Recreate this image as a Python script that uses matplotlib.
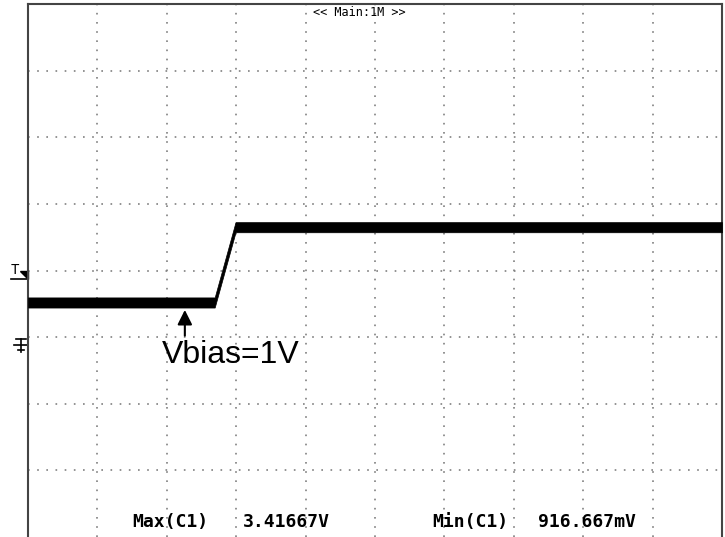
import matplotlib.pyplot as plt

# time in divisions, level in divisions (screen units of the scope)
t = [0.0, 2.69, 2.99, 10.0]
level = [3.52, 3.52, 4.65, 4.65]

max_label = 'Max(C1)'
max_val = '3.41667V'
min_label = 'Min(C1)'
min_val = '916.667mV'
timebase = '<< Main:1M >>'
note = 'Vbias=1V'

fig = plt.figure(figsize=(7.25, 5.37), dpi=100)
ax = fig.add_axes([28/725, 0, 694/725, 533/537])
ax.set_xlim(0, 10)
ax.set_ylim(0, 8)

# dotted graticule
for gx in range(1, 10):
    ax.axvline(gx, color='#808080', lw=1.2, ls=(0, (1, 4.5)), zorder=1)
for gy in range(1, 8):
    ax.axhline(gy, color='#808080', lw=1.2, ls=(0, (1, 4.5)), zorder=1)

# trace drawn as a band, like the scope's persistence
half = 0.076
ax.fill_between(t, [v - half for v in level], [v + half for v in level],
                color='black', lw=0.5, edgecolor='black', zorder=3)

ax.annotate('', xy=(2.26, 3.45), xytext=(2.26, 2.98),
            arrowprops=dict(arrowstyle='-|>', color='black', lw=1.5,
                            mutation_scale=22))
ax.text(1.93, 2.95, note, fontsize=23, family='Liberation Sans', va='top', ha='left')

mono = dict(family='DejaVu Sans Mono', fontsize=13, va='center', ha='left',
            fontweight='bold')
ax.text(1.5, 0.22, max_label, **mono)
ax.text(3.1, 0.22, max_val, **mono)
ax.text(5.83, 0.22, min_label, **mono)
ax.text(7.35, 0.22, min_val, **mono)
ax.text(4.1, 7.87, timebase, family='DejaVu Sans Mono', fontsize=8.6, va='center', ha='left')

# trigger marker
ax.text(-0.25, 3.9, 'T', fontsize=10, family='DejaVu Sans Mono', ha='left', va='bottom',
        clip_on=False)
ax.plot([-0.25, 0], [3.87, 3.87], color='black', lw=1.2, clip_on=False)
ax.fill([-0.12, 0, 0], [4.0, 4.0, 3.87], color='black', clip_on=False)

# ground marker
ax.plot([-0.1, -0.1], [2.97, 2.78], color='black', lw=1.2, clip_on=False)
ax.plot([-0.17, -0.03], [2.97, 2.97], color='black', lw=1.2, clip_on=False)
ax.plot([-0.2, -0.0], [2.88, 2.88], color='black', lw=1.2, clip_on=False)
ax.plot([-0.14, -0.06], [2.8, 2.8], color='black', lw=1.2, clip_on=False)

for s in ['left', 'top', 'right']:
    ax.spines[s].set_color('#444444')
    ax.spines[s].set_linewidth(1.5)
ax.spines['bottom'].set_visible(False)
ax.set_xticks([])
ax.set_yticks([])

fig.savefig('out.png')
